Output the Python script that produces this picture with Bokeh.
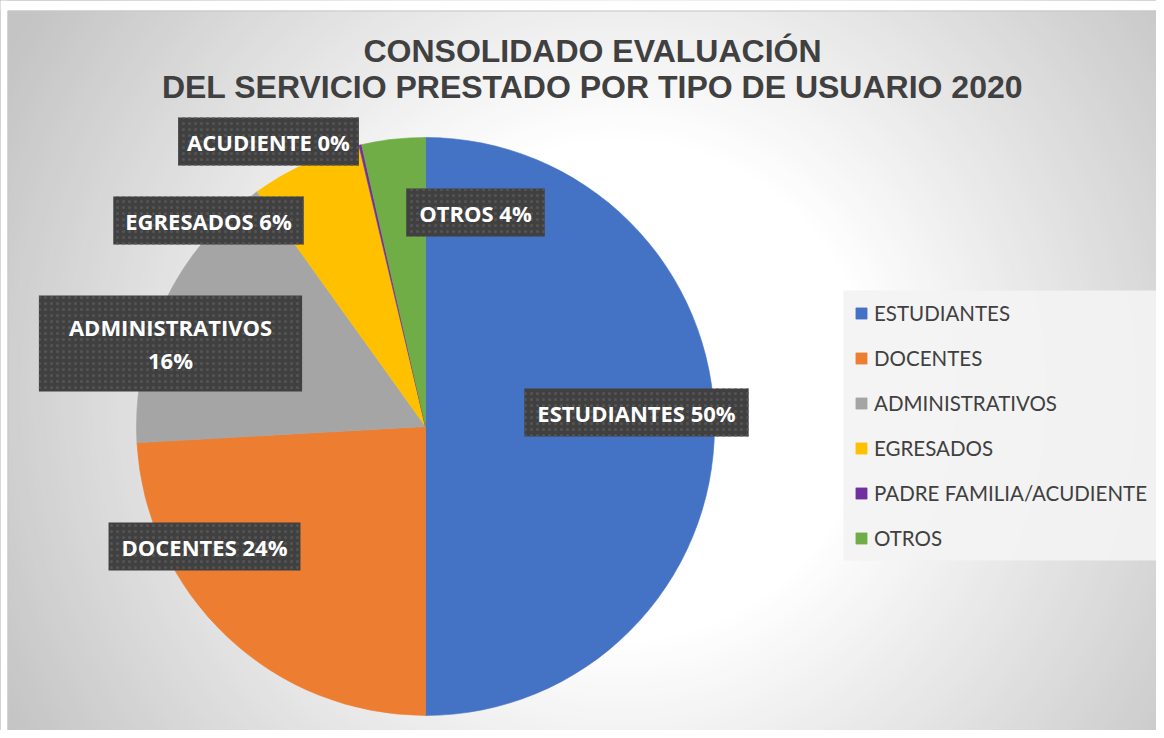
import numpy as np
from bokeh.plotting import figure
from bokeh.models import ColumnDataSource, Range1d, Label, Legend, LegendItem
from bokeh.embed import file_html
from bokeh.resources import INLINE

# ---------------- data ----------------
categories = ["ESTUDIANTES", "DOCENTES", "ADMINISTRATIVOS", "EGRESADOS",
              "PADRE FAMILIA/ACUDIENTE", "OTROS"]
label_names = ["ESTUDIANTES", "DOCENTES", "ADMINISTRATIVOS", "EGRESADOS",
               "ACUDIENTE", "OTROS"]
percentages = [50.0, 24.1, 16.0, 6.2, 0.15, 3.55]
colors = ["#4472C4", "#ED7D31", "#A5A5A5", "#FFC000", "#7030A0", "#70AD47"]
title_lines = ["CONSOLIDADO EVALUACIÓN",
               "DEL SERVICIO PRESTADO POR TIPO DE USUARIO 2020"]

# ---------------- layout / style ----------------
W, H = 1156, 730
PAGE_H = 738


def Y(py):  # picture y (top-down) -> data y (bottom-up)
    return PAGE_H - py


CX, CY, R = 425, Y(426), 289
# label centres (picture px), separator between name and value,
# padding (horizontal, vertical), line height
label_pos = [(636, 412), (204, 546), (170, 343), (208, 220), (268, 141), (475, 212)]
label_sep = [" ", " ", "\n", " ", " ", " "]
label_pad = [(13, 9), (13, 9), (30, 17), (12, 9), (9, 9), (13, 9)]
label_lh = [1.2, 1.2, 1.07, 1.2, 1.2, 1.2]

p = figure(width=W, height=H, output_backend="svg", toolbar_location=None,
           x_range=Range1d(0, W), y_range=Range1d(PAGE_H - H, PAGE_H),
           x_axis_type=None, y_axis_type=None, min_border=0,
           background_fill_color="white", border_fill_color="white",
           outline_line_color=None)

# ---------- background radial gradient ----------
gx, gy = 620, Y(390)
radii = np.arange(900, 240, -6)


def grey(d):
    g = 255 - (255 - 196) * (d - 250) / 450.0
    g = int(round(min(255, max(196, g))))
    return "#%02x%02x%02x" % (g, g, g)


p.circle(x=[gx] * len(radii), y=[gy] * len(radii), radius=list(radii),
         fill_color=[grey(r) for r in radii], line_color=None)

# white margin strips + chart border
p.quad(left=[0, 0], right=[W, 7], top=[PAGE_H, PAGE_H], bottom=[Y(10), 0],
       fill_color="white", line_color=None)
p.quad(left=7.5, right=1161.5, top=Y(10.5), bottom=Y(737.5),
       fill_color=None, line_color="#c8c8c8", line_width=1)

# ---------- pie ----------
vals = np.array(percentages, dtype=float)
frac = vals / vals.sum()
cum = np.concatenate([[0], np.cumsum(frac)])
start = np.pi / 2 - 2 * np.pi * cum[:-1]
end = np.pi / 2 - 2 * np.pi * cum[1:]
src = ColumnDataSource(dict(cat=categories, start=start, end=end, color=colors))
pie = p.wedge(x=CX, y=CY, radius=R, start_angle="start", end_angle="end",
              direction="clock", fill_color="color", line_color="color",
              line_width=0.6, source=src)

# ---------- title ----------
for txt, base in zip(title_lines, [50, 86]):
    p.add_layout(Label(x=592, y=Y(base), text=txt, text_align="center",
                       text_baseline="alphabetic", text_font="Liberation Sans",
                       text_font_style="bold", text_font_size="32px",
                       text_color="#404040"))

# ---------- data labels ----------
for name, v, (lx, ly), sep, pad, lh in zip(label_names, percentages, label_pos,
                                          label_sep, label_pad, label_lh):
    txt = f"{name}{sep}{int(round(v))}%"
    common = dict(x=lx, y=Y(ly), text=txt, text_align="center",
                  text_baseline="middle", text_font="Open Sans",
                  text_font_style="bold", text_font_size="22px",
                  text_line_height=lh, padding=pad)
    p.add_layout(Label(x_offset=3, y_offset=-4, text_alpha=0,
                       background_fill_color="black",
                       background_fill_alpha=0.25, **common))
    p.add_layout(Label(text_color="white", background_fill_color="#404040",
                       background_hatch_pattern="dot",
                       background_hatch_color="#545454",
                       background_hatch_scale=6,
                       background_hatch_weight=1.2, **common))

# ---------- legend ----------
# legend panel
p.quad(left=843, right=1160, top=Y(290), bottom=Y(560),
       fill_color="#f3f3f3", fill_alpha=0.92, line_color=None)
items = [LegendItem(label=c, renderers=[pie], index=i)
         for i, c in enumerate(categories)]
legend = Legend(items=items, location=(854, 180), orientation="vertical",
                glyph_width=14, glyph_height=14, label_height=25,
                spacing=20, padding=0, margin=0, label_standoff=6,
                label_text_font="Lato", label_text_font_size="20.5px",
                label_text_color="#404040",
                background_fill_alpha=0, border_line_color=None)
p.add_layout(legend, "center")

open("out.html", "w").write(file_html(p, INLINE))
